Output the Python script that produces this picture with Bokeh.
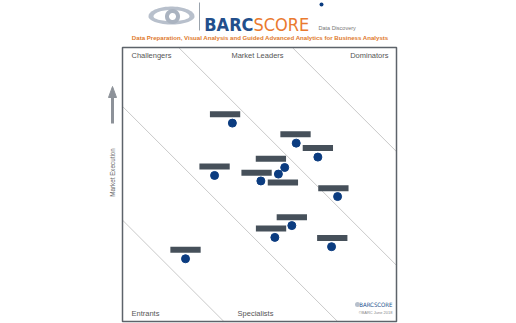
import numpy as np
from bokeh.plotting import figure
from bokeh.models import Range1d
from bokeh.core.properties import value
from bokeh.embed import file_html
from bokeh.resources import INLINE

# ---- data, axis 0..10 both ways ----
vendor_x = [4.01, 6.34, 7.13, 5.92, 5.69, 5.05, 3.36, 7.85, 6.18, 5.56, 7.63, 2.30]
vendor_y = [7.24, 6.51, 6.00, 5.62, 5.38, 5.13, 5.33, 4.56, 3.50, 3.07, 2.73, 2.29]
# redacted vendor-name labels: offset of each label bar from its dot, in pixels (layout only)
label_dx_px = [-7.3, -0.7, 0.0, -13.8, 4.5, -4.3, 0.0, -4.2, 0.0, -3.8, 0.7, 0.0]
label_dy_px = [-8.9, -8.8, -9.0, -8.7, 8.3, -8.3, -9.0, -8.3, -8.3, -9.0, -8.7, -9.0]
# diagonal zone boundaries: lines where x + y = const
zone_bounds = [3.7, 7.85, 12.05, 16.2]
zone_names = ["Challengers", "Market Leaders", "Dominators", "Entrants", "Specialists"]
y_label = "Market Execution"
title = "Data Preparation, Visual Analysis and Guided Advanced Analytics for Business Analysts"

# ---- layout: data square 0..10 sits at pixels x 122..396, y 47..321 ----
W, H = 516, 323
S = 27.4
X0, Y0 = 122, 321


def px(xp):
    return (xp - X0) / S


def py(yp):
    return (Y0 - yp) / S


p = figure(width=W, height=H, output_backend="svg", toolbar_location=None,
           x_range=Range1d(px(0), px(W)), y_range=Range1d(py(H), py(0)),
           min_border=0, min_border_left=0, min_border_right=0,
           min_border_top=0, min_border_bottom=0)
p.axis.visible = False
p.grid.visible = False
p.outline_line_color = None
p.background_fill_color = "white"
p.border_fill_color = "white"

FONT = value("Liberation Sans")

# diagonal zone lines
xs, ys = [], []
for c in zone_bounds:
    if c <= 10:
        xs.append([0, c]); ys.append([c, 0])
    else:
        xs.append([c - 10, 10]); ys.append([10, c - 10])
p.multi_line(xs, ys, line_color="#c9c9c9", line_width=1)

# frame
p.rect(x=[5], y=[5], width=10, height=10, fill_color=None,
       line_color="#5d636a", line_width=1.5)

# zone names
tpos = [(131, 55, "left"), (257, 55, "center"), (388, 55, "right"),
        (131, 313, "left"), (255, 313, "center")]
for name, (tx, ty, al) in zip(zone_names, tpos):
    p.text(x=[px(tx)], y=[py(ty)], text=[name], text_font=FONT,
           text_font_size="7.5px", text_color="#555555",
           text_align=al, text_baseline="middle")

# y label + arrow
p.text(x=[px(112)], y=[py(172)], text=[y_label], angle=np.pi / 2,
       text_font=FONT, text_font_size="6.3px", text_color="#666666",
       text_align="center", text_baseline="middle")
p.segment(x0=[px(112)], y0=[py(123)], x1=[px(112)], y1=[py(96)],
          line_color="#8d9299", line_width=3)
p.patch(x=[px(108), px(116), px(112)], y=[py(97), py(97), py(86)],
        fill_color="#8d9299", line_color="#8d9299")

# label bars (redacted vendor names)
bx = [x + dx / S for x, dx in zip(vendor_x, label_dx_px)]
by = [y - dy / S for y, dy in zip(vendor_y, label_dy_px)]
p.rect(x=bx, y=by, width=30.3 / S, height=6 / S,
       fill_color="#46505a", line_color=None)

# vendor dots
p.scatter(x=vendor_x, y=vendor_y, size=8, fill_color="#0b3c80",
          line_color="#0b3c80")

# ---- header ----
# eye logo
t = np.linspace(0, np.pi, 30)
ex, ey, ew, eh = 171, 16, 23, 10
top_x = ex - ew * np.cos(t)
top_y = ey - eh * np.sin(t)
bot_x = ex + ew * np.cos(t)
bot_y = ey + 0.8 * eh * np.sin(t)
p.patch(x=px(np.concatenate([top_x, bot_x])), y=py(np.concatenate([top_y, bot_y])),
        fill_color="#b8c0cc", line_color=None)
ieh = 6.5
p.patch(x=px(np.concatenate([ex - 18 * np.cos(t), ex + 18 * np.cos(t)])),
        y=py(np.concatenate([ey - ieh * np.sin(t), ey + 0.7 * ieh * np.sin(t)])),
        fill_color="white", line_color=None)
a = np.linspace(0, 2 * np.pi, 40)
p.patch(x=px(ex + 1 + 7.5 * np.cos(a)), y=py(ey + 7.5 * np.sin(a)),
        fill_color="#aab3c0", line_color=None)
p.patch(x=px(ex + 1 + 3.5 * np.cos(a)), y=py(ey + 3.5 * np.sin(a)),
        fill_color="white", line_color=None)
p.segment(x0=[px(199)], y0=[py(2)], x1=[px(199)], y1=[py(30)],
          line_color="#9aa3ad", line_width=1)

NARROW = value("'Liberation Sans Narrow', 'DejaVu Sans Condensed', 'Liberation Sans'")
p.text(x=[px(253)], y=[py(24)], text=["BARC"], text_font=NARROW,
       text_font_style="bold", text_font_size="18px", text_color="#234f8c",
       text_align="right", text_baseline="alphabetic")
p.text(x=[px(253)], y=[py(24)], text=["SCORE"], text_font=NARROW,
       text_font_size="18px", text_color="#ea7a2f",
       text_align="left", text_baseline="alphabetic")
p.scatter(x=[px(321)], y=[py(4)], size=4, fill_color="#0b3c80", line_color=None)
p.text(x=[px(318)], y=[py(27)], text=["Data Discovery"], text_font=FONT,
       text_font_size="5.5px", text_color="#777777",
       text_align="left", text_baseline="middle")

p.text(x=[px(260)], y=[py(37)], text=[title], text_font=FONT,
       text_font_style="bold", text_font_size="6.1px", text_color="#e07a2c",
       text_align="center", text_baseline="middle")

# bottom-right mini logo
p.text(x=[px(392)], y=[py(304)], text=["BARCSCORE"], text_font=NARROW,
       text_font_size="6px", text_color="#234f8c",
       text_align="right", text_baseline="middle")
p.scatter(x=[px(357)], y=[py(304)], size=5, fill_color="#b8c0cc", line_color=None)
p.text(x=[px(392)], y=[py(312)], text=["\u00a9BARC June 2018"], text_font=FONT,
       text_font_size="4px", text_color="#888888",
       text_align="right", text_baseline="middle")

open("out.html", "w").write(file_html(p, INLINE))
